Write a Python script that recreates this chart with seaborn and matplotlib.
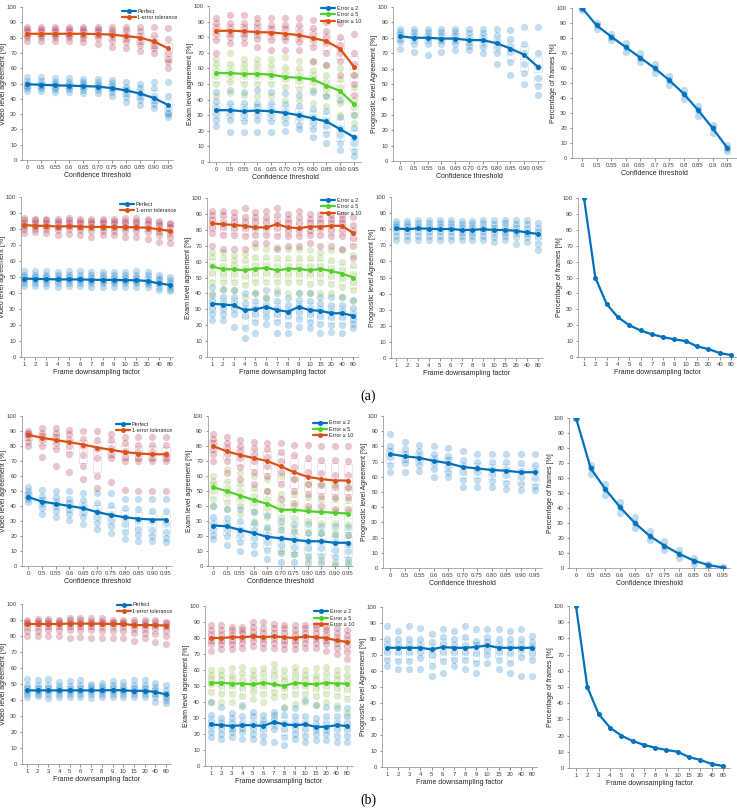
import matplotlib
matplotlib.use("Agg")
import matplotlib.pyplot as plt
from matplotlib.lines import Line2D
import numpy as np
import pandas as pd
import seaborn as sns

sns.set_theme(style="white")
plt.rcParams['font.family'] = ['Liberation Sans', 'DejaVu Sans']

# ---------------- categories ----------------
conf_labels = ['0', '0.5', '0.55', '0.6', '0.65', '0.70', '0.75', '0.80', '0.85', '0.90', '0.95']
conf_labels_frames = ['0', '0.5', '0.55', '0.6', '0.65', '0.7', '0.75', '0.8', '0.85', '0.9', '0.95']
ds_labels = ['1', '2', '3', '4', '5', '6', '7', '8', '9', '10', '15', '20', '40', '80']

# ================= (a) confidence threshold =================
a_conf_video_perfect_mean = [49.5, 49.2, 48.8, 48.6, 48.3, 48.0, 47.0, 45.5, 43.5, 40.5, 36.0]
a_conf_video_perfect_pts = [
    [45, 47, 48.5, 50, 51.5, 54], [45, 47, 48.5, 50, 51.5, 54], [44.5, 46.5, 48, 49.5, 51, 53.5],
    [44.5, 46.5, 48, 49.5, 51, 53.5], [44, 46, 48, 49.5, 51, 53], [44, 46, 47.5, 49, 51, 53],
    [42, 44.5, 46.5, 48.5, 50.5, 52], [38, 41, 44, 46, 48, 51], [36, 39, 42, 44, 47, 50],
    [34, 36.5, 39, 42, 47, 51], [28, 30, 31, 34, 42, 51]]
a_conf_video_tol_mean = [82.5, 82.5, 82.5, 82.5, 82.5, 82.3, 82.0, 81.0, 80.0, 77.5, 73.0]
a_conf_video_tol_pts = [
    [78, 80.5, 82, 84, 85.5, 87], [78, 80.5, 82, 84, 85.5, 87], [78, 80.5, 82, 84, 85.5, 87],
    [78, 80.5, 82, 84, 85.5, 87], [77, 80, 82, 84, 85.5, 87], [76, 79.5, 82, 84, 85.5, 87],
    [74, 78, 81, 83, 85, 87], [73, 77, 80, 82, 85, 87], [71, 75, 78, 81, 84, 87],
    [70, 73, 75, 78, 82, 87], [60, 64, 66, 70, 79, 86]]

a_conf_exam_e2_mean = [33.2, 33.2, 32.5, 33.0, 32.5, 31.5, 30.0, 28.0, 26.0, 21.0, 16.0]
a_conf_exam_e2_pts = [
    [23, 27, 31, 35, 39, 45], [19, 27, 31, 34, 38, 46], [19, 26, 30, 34, 38, 45],
    [19, 27, 31, 35, 38, 46], [19, 26, 30, 34, 38, 45], [20, 25, 29, 33, 37, 44],
    [21, 24, 28, 31, 36, 43], [16, 21, 25, 29, 34, 45], [12, 18, 23, 27, 33, 42],
    [8, 12, 17, 22, 29, 40], [4, 7, 12, 16, 22, 30]]
a_conf_exam_e5_mean = [57.0, 57.0, 56.5, 56.5, 56.0, 54.5, 54.0, 53.0, 49.0, 45.5, 37.0]
a_conf_exam_e5_pts = [
    [42, 50, 55, 59, 63, 66], [44, 51, 55, 59, 63, 70], [43, 50, 55, 59, 63, 66],
    [42, 50, 55, 59, 63, 66], [42, 50, 55, 58, 62, 66], [40, 48, 53, 57, 61, 67],
    [40, 47, 52, 56, 60, 65], [38, 46, 51, 55, 59, 64], [36, 42, 47, 51, 56, 62],
    [30, 38, 43, 48, 53, 60], [25, 30, 35, 40, 48, 56]]
a_conf_exam_e10_mean = [84.0, 84.2, 83.8, 83.3, 83.0, 82.3, 81.3, 79.5, 77.5, 72.5, 61.0]
a_conf_exam_e10_pts = [
    [70, 78, 82, 86, 89, 92], [76, 80, 83, 86, 89, 94], [76, 80, 83, 86, 89, 94],
    [74, 79, 82, 86, 89, 92], [72, 78, 82, 85, 88, 92], [72, 78, 81, 85, 88, 92],
    [72, 77, 80, 84, 88, 92], [65, 74, 78, 82, 86, 91], [62, 70, 76, 80, 84, 90],
    [56, 65, 70, 75, 80, 89], [43, 50, 56, 63, 70, 82]]

a_conf_prog_mean = [81.0, 80.0, 80.0, 79.5, 79.5, 78.5, 78.5, 76.5, 73.0, 69.0, 61.0]
a_conf_prog_pts = [
    [73, 77, 79.5, 82, 84, 86], [71, 76, 79, 81, 83.5, 86], [69, 76, 79, 81, 83.5, 86],
    [71, 76, 78.5, 81, 83.5, 86], [72, 76, 78.5, 81, 83.5, 86], [72, 75, 77.5, 80, 83, 86],
    [70, 74, 77.5, 80, 83, 86], [63, 70, 74, 78, 82, 86], [56, 64, 71, 75, 79, 85],
    [50, 57, 63, 70, 76, 87], [43, 49, 54, 61, 70, 87]]

a_conf_frames_mean = [100, 88.5, 81, 74, 67, 60, 52, 43, 32, 20, 7]
a_conf_frames_pts = [
    [99, 100, 100], [86, 88.5, 90], [78.5, 81, 83], [71, 74, 76.5], [64, 67, 70], [57, 60, 63],
    [48.5, 52, 55], [39.5, 43, 45.5], [28, 32, 34.5], [17, 20, 22], [5, 7, 8.5]]

# ================= (a) frame downsampling =================
a_ds_video_perfect_mean = [49, 48.8, 48.7, 48.5, 48.5, 48.5, 48.3, 48.2, 48.2, 48.0, 48.0, 47.5, 46.0, 45.0]
a_ds_video_perfect_pts = [
    [44.5, 46.5, 48, 50, 51.5, 54], [44.5, 46.5, 48, 50, 51.5, 53.5], [44.5, 46.5, 48, 50, 51.5, 54],
    [44, 46, 48, 49.5, 51, 53], [44.5, 46.5, 48, 50, 51.5, 53.5], [44.5, 46.5, 48, 49.5, 51, 53.5],
    [43.5, 46, 47.5, 49.5, 51, 53], [44, 46, 47.5, 49.5, 51, 53], [44, 46, 47.5, 49.5, 51, 53],
    [44, 46, 47.5, 49.5, 51, 53], [44, 46, 47.5, 49.5, 51, 53.5], [43.5, 45.5, 47, 49, 51, 53],
    [42, 44, 46, 48, 49.5, 51], [41, 42.5, 44.5, 46.5, 48, 50]]
a_ds_video_tol_mean = [82.5, 82.0, 82.0, 81.5, 81.8, 81.5, 81.3, 81.3, 81.2, 81.2, 81.0, 80.8, 79.8, 78.8]
a_ds_video_tol_pts = [
    [77.5, 80, 82, 84, 85.5, 87], [78, 80, 82, 84, 85.5, 86.5], [77.5, 80, 82, 84, 85.5, 86.5],
    [76.5, 79.5, 81.5, 83.5, 85, 86], [77, 80, 82, 84, 85.5, 87], [76.5, 79.5, 81.5, 83.5, 85, 86.5],
    [75, 79, 81, 83.5, 85, 86], [76, 79, 81, 83.5, 85, 86.5], [76, 79, 81, 83.5, 85, 86.5],
    [75, 79, 81, 83.5, 85, 87], [75, 79, 81, 83.5, 85, 87], [74, 78, 80.5, 83, 85, 86],
    [72, 76, 79, 82, 84, 85], [71, 75, 78, 81, 83, 84]]

a_ds_exam_e2_mean = [33.5, 33.0, 32.5, 29.5, 30.0, 31.5, 29.5, 28.5, 31.5, 29.5, 29.0, 27.5, 27.5, 26.0]
a_ds_exam_e2_pts = [
    [23, 27, 31, 35, 39, 44], [23, 27, 31, 34, 38, 43], [19, 27, 31, 34, 38, 42],
    [12, 18, 26, 30, 34, 40], [15, 22, 27, 31, 35, 40], [21, 25, 29, 33, 37, 42],
    [15, 22, 27, 31, 35, 40], [15, 20, 26, 29, 33, 37], [19, 24, 28, 32, 36, 40],
    [18, 22, 27, 31, 35, 40], [15, 21, 26, 30, 34, 38], [16, 20, 25, 29, 33, 38],
    [15, 20, 25, 29, 33, 38], [18, 21, 24, 27, 31, 36]]
a_ds_exam_e5_mean = [57.0, 55.2, 55.2, 54.5, 55.5, 56.0, 54.5, 55.5, 55.5, 54.5, 55.5, 54.0, 52.5, 50.0]
a_ds_exam_e5_pts = [
    [40, 47, 53, 58, 63, 66], [42, 47, 52, 57, 62, 66], [42, 47, 52, 57, 61, 64],
    [38, 45, 51, 56, 61, 65], [40, 47, 53, 58, 63, 69], [38, 47, 53, 58, 63, 68],
    [42, 47, 52, 57, 62, 69], [40, 47, 52, 57, 62, 68], [40, 47, 52, 57, 62, 68],
    [40, 46, 52, 57, 62, 67], [40, 47, 52, 57, 62, 66], [40, 46, 51, 56, 61, 67],
    [38, 44, 50, 55, 60, 67], [35, 42, 47, 52, 58, 64]]
a_ds_exam_e10_mean = [84.0, 83.5, 83.0, 82.5, 81.5, 81.5, 83.5, 81.5, 81.0, 82.0, 82.0, 82.5, 82.5, 78.0]
a_ds_exam_e10_pts = [
    [70, 78, 82, 86, 89, 92], [68, 77, 82, 85, 89, 92], [68, 77, 81, 85, 88, 91],
    [68, 76, 81, 85, 88, 94], [72, 77, 81, 85, 88, 91], [72, 77, 81, 85, 88, 92],
    [68, 76, 81, 85, 89, 94], [70, 76, 80, 84, 87, 90], [70, 76, 80, 84, 88, 92],
    [72, 77, 80, 84, 87, 90], [70, 77, 81, 84, 87, 90], [70, 76, 80, 84, 87, 89],
    [68, 76, 80, 84, 87, 89], [62, 70, 75, 79, 83, 88]]

a_ds_prog_mean = [80.5, 80.0, 80.5, 80.3, 80.0, 80.2, 79.5, 79.6, 80.0, 79.5, 79.5, 79.0, 78.0, 77.0]
a_ds_prog_pts = [
    [73, 76, 79, 81.5, 83.5, 85], [73, 76, 79, 81.5, 83.5, 85], [73, 76, 79, 81.5, 84, 86],
    [73, 76, 79, 81.5, 84, 86], [73, 76, 79, 81.5, 84, 86], [73, 76, 79, 81.5, 84, 86],
    [73, 76, 78.5, 81, 83, 85], [73, 76, 78.5, 81, 83.5, 85], [73, 76, 79, 81, 84, 86],
    [72, 75, 78, 81, 83.5, 86], [73, 76, 78.5, 81, 84, 86], [71, 75, 78, 81, 83.5, 86],
    [72, 75, 77.5, 80, 83, 86], [67, 71, 75, 78, 81, 84]]

a_ds_frames_mean = [100, 50, 33.3, 25, 20, 16.7, 14.3, 12.5, 11.1, 10, 6.7, 5, 2.5, 1.25]

# ================= (b) confidence threshold =================
b_conf_video_perfect_mean = [46, 43, 41.5, 40, 38.5, 36, 34, 32.5, 31.5, 31, 31]
b_conf_video_perfect_pts = [
    [43, 45, 46, 48, 50, 53], [35, 39, 42, 44, 47, 51], [33, 37, 40, 43, 46, 50],
    [31, 35, 38, 42, 45, 50], [28, 33, 36, 40, 44, 49], [25, 29, 33, 37, 42, 49],
    [22, 27, 31, 35, 41, 49], [18, 23, 28, 33, 39, 45], [17, 21, 25, 31, 38, 45],
    [17, 20, 24, 30, 37, 45], [16, 19, 23, 29, 37, 45]]
b_conf_video_tol_mean = [87.5, 85.5, 84, 82.5, 81, 79, 77.5, 76, 75, 74.5, 74.5]
b_conf_video_tol_pts = [
    [80, 83, 86, 88, 89, 90], [73, 80, 84, 87, 89, 92], [67, 78, 82, 86, 89, 92],
    [63, 75, 80, 84, 88, 91], [58, 67, 74, 80, 85, 90], [52, 60, 72, 78, 84, 90],
    [56, 72, 75, 79, 84, 88], [51, 70, 73, 77, 82, 86], [50, 70, 72, 76, 81, 86],
    [50, 70, 72, 76, 81, 86], [50, 70, 72, 75, 81, 86]]

b_conf_exam_e2_mean = [27, 26.5, 24, 22, 19.5, 18.5, 17.5, 16.5, 16.5, 15.5, 15.5]
b_conf_exam_e2_pts = [
    [18, 21, 25, 29, 33, 40], [14, 20, 24, 28, 32, 38], [10, 16, 21, 25, 30, 38],
    [9, 14, 19, 24, 29, 36], [5, 11, 16, 21, 26, 34], [3, 9, 14, 19, 24, 30],
    [3, 8, 13, 18, 23, 28], [2, 7, 12, 17, 22, 28], [2, 7, 12, 17, 22, 27],
    [1, 6, 11, 16, 21, 27], [1, 5, 10, 15, 21, 26]]
b_conf_exam_e5_mean = [52.5, 50, 47, 44, 41.5, 37.5, 37.5, 36.5, 36, 35.5, 35]
b_conf_exam_e5_pts = [
    [40, 45, 50, 54, 57, 60], [38, 43, 48, 52, 57, 65], [35, 40, 45, 50, 55, 62],
    [30, 37, 42, 47, 52, 60], [25, 33, 39, 45, 50, 58], [10, 26, 33, 41, 48, 60],
    [8, 25, 32, 40, 48, 58], [5, 23, 30, 38, 46, 55], [4, 22, 29, 37, 45, 55],
    [3, 22, 29, 37, 45, 55], [3, 21, 28, 36, 44, 52]]
b_conf_exam_e10_mean = [80, 76.5, 74, 72, 70, 66.5, 62.5, 59.5, 58, 57, 57]
b_conf_exam_e10_pts = [
    [70, 75, 78, 82, 85, 88], [62, 70, 75, 79, 82, 86], [58, 66, 72, 77, 80, 84],
    [55, 63, 70, 75, 79, 83], [50, 60, 67, 73, 78, 82], [45, 55, 63, 70, 76, 82],
    [42, 50, 58, 66, 74, 81], [40, 48, 55, 63, 72, 81], [40, 47, 54, 62, 71, 80],
    [38, 46, 53, 61, 71, 80], [38, 46, 53, 61, 70, 80]]

b_conf_prog_mean = [75, 73.5, 72.5, 70.5, 69, 66.5, 65.5, 64.5, 64, 63, 63]
b_conf_prog_pts = [
    [63, 68, 73, 77, 80, 88], [63, 69, 72, 75, 78, 83], [64, 68, 71, 74, 77, 81],
    [60, 65, 69, 72, 75, 80], [60, 63, 67, 71, 74, 79], [53, 58, 63, 67, 71, 77],
    [53, 58, 63, 66, 70, 75], [53, 57, 62, 65, 70, 75], [52, 56, 61, 65, 70, 75],
    [51, 55, 60, 64, 69, 75], [51, 54, 59, 64, 68, 75]]

b_conf_frames_mean = [100, 66.5, 52.5, 40.5, 30, 21.5, 15, 9.5, 5, 2, 0.3]
b_conf_frames_pts = [
    [100, 100, 100], [63, 66.5, 69], [49, 52.5, 56], [37, 40.5, 44], [27, 30, 34], [18.5, 21.5, 25],
    [12, 15, 18], [7, 9.5, 12], [3, 5, 7], [1, 2, 3], [0, 0.3, 0.5]]

# ================= (b) frame downsampling =================
b_ds_video_perfect_mean = [46, 46, 46, 46, 46, 46, 46, 46, 46.2, 46, 45.7, 45.8, 45, 43.5]
b_ds_video_perfect_pts = [
    [42, 44, 45.5, 47.5, 49.5, 53], [42.5, 44, 45.5, 47.5, 49.5, 52.5], [41.5, 44, 45.5, 47.5, 49.5, 53],
    [42, 44, 45.5, 47, 49, 51.5], [42, 44, 45.5, 47, 49, 52], [42, 44, 45.5, 47.5, 49.5, 52.5],
    [41.5, 43.5, 45.5, 47, 48.5, 50], [42, 44, 45.5, 47, 48.5, 50.5], [42, 44, 45.5, 47.5, 49.5, 52],
    [42, 44, 45.5, 47, 49, 51.5], [42, 44, 45.5, 47.5, 49.5, 52.5], [42, 44, 45.5, 47.5, 49.5, 52.5],
    [39, 42, 44, 46, 48, 50.5], [38, 40, 42, 44, 46.5, 49.5]]
b_ds_video_tol_mean = [87.5, 87.5, 87.5, 87.5, 87.8, 87.8, 87.7, 87.7, 87.5, 87.5, 86.8, 86.8, 86.8, 86.5]
b_ds_video_tol_pts = [
    [80, 83, 86, 88, 89, 90], [80, 83, 86, 88, 89.5, 90.5], [80, 83.5, 86, 88, 89.5, 90.5],
    [80, 83.5, 86, 88, 89.5, 90], [79, 84, 86, 88, 90, 91], [79.5, 84, 86, 88, 90, 91],
    [79, 83.5, 86, 88, 89.5, 91], [79, 83, 86, 88, 89.5, 91], [79, 83, 86, 88, 89, 90],
    [79, 83, 86, 88, 89, 90], [77, 82, 85, 87, 88.5, 90], [79, 82, 85, 87, 88.5, 90],
    [76, 81, 85, 87, 88.5, 90], [75, 80, 84, 86, 88, 89]]

b_ds_exam_e2_mean = [26, 25.5, 25, 25.5, 25.5, 25, 27.5, 26, 25.5, 26, 24.5, 24.5, 25.5, 25]
b_ds_exam_e2_pts = [
    [18, 21, 25, 28, 32, 40], [17, 20, 24, 27, 30, 37], [18, 21, 24, 27, 30, 33],
    [17, 21, 24, 27, 31, 38], [17, 20, 24, 27, 31, 34], [15, 19, 23, 26, 29, 32],
    [15, 23, 26, 29, 32, 34], [13, 18, 23, 27, 32, 36], [17, 20, 24, 27, 31, 36],
    [15, 19, 23, 27, 31, 41], [16, 20, 23, 26, 30, 38], [16, 20, 23, 27, 31, 37],
    [15, 19, 23, 27, 31, 36], [15, 19, 23, 27, 31, 36]]
b_ds_exam_e5_mean = [52, 52, 51.5, 51.5, 51, 52, 51, 50, 52, 51.5, 51, 52, 51.5, 51.5]
b_ds_exam_e5_pts = [
    [40, 46, 51, 54, 57, 60], [40, 45, 50, 54, 57, 60], [40, 45, 50, 54, 57, 61],
    [37, 44, 49, 54, 58, 62], [42, 46, 50, 54, 57, 60], [40, 45, 50, 54, 58, 61],
    [43, 46, 51, 56, 60, 64], [37, 44, 49, 53, 56, 60], [39, 45, 50, 55, 59, 62],
    [40, 45, 50, 54, 57, 60], [38, 44, 49, 54, 57, 61], [40, 45, 50, 54, 58, 62],
    [38, 44, 49, 54, 57, 60], [33, 42, 48, 53, 57, 61]]
b_ds_exam_e10_mean = [80, 80, 80.5, 80.5, 81, 80.5, 81, 80.5, 80, 81, 80.5, 80, 78.5, 77.5]
b_ds_exam_e10_pts = [
    [72, 76, 79, 82, 85, 88], [73, 76, 79, 82, 85, 88], [73, 76, 79, 82, 85, 87],
    [74, 77, 80, 83, 85, 87], [75, 78, 81, 84, 87, 90], [74, 77, 80, 83, 86, 90],
    [74, 77, 80, 83, 86, 89], [73, 76, 79, 83, 86, 88], [73, 76, 79, 82, 85, 88],
    [74, 77, 80, 83, 86, 88], [74, 77, 80, 83, 86, 88], [72, 76, 79, 82, 85, 87],
    [70, 74, 77, 80, 83, 86], [67, 71, 75, 79, 82, 85]]

b_ds_prog_mean = [74.5, 74.5, 74.5, 74.5, 73.5, 75, 74.5, 74.5, 75, 76, 74.5, 74.5, 74.5, 74.5]
b_ds_prog_pts = [
    [63, 67, 72, 76, 80, 88], [61, 66, 72, 76, 80, 85], [61, 66, 72, 76, 80, 88],
    [61, 68, 72, 76, 80, 87], [57, 63, 70, 74, 78, 83], [59, 66, 72, 77, 81, 86],
    [63, 67, 72, 76, 80, 85], [61, 67, 72, 76, 81, 88], [59, 65, 71, 76, 79, 86],
    [65, 70, 74, 78, 81, 86], [61, 67, 72, 76, 80, 86], [59, 65, 71, 76, 80, 85],
    [57, 69, 73, 76, 80, 86], [57, 67, 71, 75, 78, 82]]

b_ds_frames_mean = [100, 50, 33.3, 25, 20, 16.7, 14.3, 12.5, 11.1, 10, 6.7, 5, 2.5, 1.25]

# ---------------- styling ----------------
W, H = 737, 810
fig = plt.figure(figsize=(W / 100, H / 100), dpi=100)
fig.patch.set_facecolor('white')

LINE_BLUE = '#0072BD'
LINE_ORANGE = '#D95319'
LINE_GREEN = '#52D12A'
PT_BLUE = '#0072BD'
PT_RED = '#A2142F'
PT_GREEN = '#77AC30'
BOX_COL = {PT_BLUE: '#D6E7F4', PT_RED: '#F3D6DC', PT_GREEN: '#E2EED3'}

TXT = '#262626'
TCK = '#404040'


def make_ax(spine, first, last, y100, y0, n):
    sp = (last - first) / (n - 1)
    gap = (first - spine) / sp
    right = last + (first - spine)
    ax = fig.add_axes([spine / W, 1 - y0 / H, (right - spine) / W, (y0 - y100) / H])
    ax.set_facecolor('white')
    ax._n = n
    ax._gap = gap
    ax._wpx = right - spine
    return ax


def draw_series(ax, mean, pts, line_color, pt_color, label, box=True, pt_alpha=0.24):
    n = len(mean)
    if pts is not None:
        xs = [i for i, col in enumerate(pts) for _ in col]
        ys = [v for col in pts for v in col]
        df = pd.DataFrame({'x': xs, 'y': ys})
        if box:
            sns.boxplot(data=df, x='x', y='y', ax=ax, fill=False, color=BOX_COL[pt_color],
                        linewidth=0.5, showfliers=False, showcaps=False, whis=0,
                        whiskerprops={'linewidth': 0}, width=0.55, zorder=1)
        sns.scatterplot(data=df, x='x', y='y', ax=ax, color=pt_color, alpha=pt_alpha, s=27,
                        linewidth=0, legend=False, zorder=2)
    dm = pd.DataFrame({'x': list(range(n)), 'y': mean})
    sns.lineplot(data=dm, x='x', y='y', ax=ax, color=line_color, linewidth=1.6, marker='o',
                 markersize=3.6, markeredgewidth=0, legend=False, zorder=5)
    return Line2D([], [], color=line_color, lw=1.6, marker='o', markersize=3.6,
                  markeredgewidth=0, label=label)


def finish(ax, labels, xlabel, ylabel, handles=None, anchor=None):
    n = ax._n
    ax.set_xlim(-ax._gap, n - 1 + ax._gap)
    ax.set_ylim(0, 100)
    ax.set_xticks(range(n))
    ax.set_xticklabels(labels)
    ax.set_yticks(range(0, 101, 10))
    ax.set_xlabel(xlabel, fontsize=5.0, color=TXT, labelpad=1.5)
    ax.set_ylabel(ylabel, fontsize=5.0, color=TXT)
    ax.yaxis.set_label_coords(-15.0 / ax._wpx, 0.5)
    ax.tick_params(axis='both', labelsize=4.3, colors=TCK, length=1.8, width=0.4, pad=1.8,
                   direction='out', bottom=True, left=True)
    for s in ['top', 'right']:
        ax.spines[s].set_visible(False)
    for s in ['left', 'bottom']:
        ax.spines[s].set_color('#8c8c8c')
        ax.spines[s].set_linewidth(0.5)
    ax.grid(False)
    if handles:
        leg = ax.legend(handles=handles, loc='upper right', bbox_to_anchor=anchor, frameon=False,
                        fontsize=3.9, handlelength=2.6, handletextpad=0.3, labelspacing=0.25,
                        borderaxespad=0.0, borderpad=0.0)
        for t in leg.get_texts():
            t.set_color(TXT)


XL_CONF = 'Confidence threshold'
XL_DS = 'Frame downsampling factor'
YL = ['Video level agreement [%]', 'Exam level agreement [%]',
      'Prognostic level Agreement [%]', 'Percentage of frames [%]']

rows = [
    dict(kind='conf', labels=conf_labels, xl=XL_CONF,
         geo=[(22, 27, 168, 7, 160), (209, 216, 354, 6, 162), (393, 400, 538, 7, 161), (572, 582, 727, 8, 158)],
         anchors=[(1.03, 0.99), (1.0, 1.0)],
         video=[(a_conf_video_perfect_mean, a_conf_video_perfect_pts), (a_conf_video_tol_mean, a_conf_video_tol_pts)],
         exam=[(a_conf_exam_e2_mean, a_conf_exam_e2_pts), (a_conf_exam_e5_mean, a_conf_exam_e5_pts),
               (a_conf_exam_e10_mean, a_conf_exam_e10_pts)],
         prog=(a_conf_prog_mean, a_conf_prog_pts), frames=(a_conf_frames_mean, a_conf_frames_pts)),
    dict(kind='ds', labels=ds_labels, xl=XL_DS,
         geo=[(21, 24, 170, 197, 357), (207, 212, 353, 198, 357), (391, 396, 538, 197, 358), (578, 584, 731, 198, 357)],
         anchors=[(1.02, 0.97), (1.02, 1.0)],
         video=[(a_ds_video_perfect_mean, a_ds_video_perfect_pts), (a_ds_video_tol_mean, a_ds_video_tol_pts)],
         exam=[(a_ds_exam_e2_mean, a_ds_exam_e2_pts), (a_ds_exam_e5_mean, a_ds_exam_e5_pts),
               (a_ds_exam_e10_mean, a_ds_exam_e10_pts)],
         prog=(a_ds_prog_mean, a_ds_prog_pts), frames=(a_ds_frames_mean, None)),
    dict(kind='conf', labels=conf_labels, xl=XL_CONF,
         geo=[(22, 28, 166, 416, 566), (208, 213, 348, 416, 566), (383, 390, 535, 416, 568), (569, 576, 723, 418, 568)],
         anchors=[(1.0, 0.96), (1.0, 0.97)],
         video=[(b_conf_video_perfect_mean, b_conf_video_perfect_pts), (b_conf_video_tol_mean, b_conf_video_tol_pts)],
         exam=[(b_conf_exam_e2_mean, b_conf_exam_e2_pts), (b_conf_exam_e5_mean, b_conf_exam_e5_pts),
               (b_conf_exam_e10_mean, b_conf_exam_e10_pts)],
         prog=(b_conf_prog_mean, b_conf_prog_pts), frames=(b_conf_frames_mean, b_conf_frames_pts)),
    dict(kind='ds', labels=ds_labels, xl=XL_DS,
         geo=[(22, 27, 166, 604, 764), (205, 211, 347, 606, 766), (382, 387, 532, 607, 767), (569, 576, 723, 606, 768)],
         anchors=[(1.01, 1.01), (1.01, 0.98)],
         video=[(b_ds_video_perfect_mean, b_ds_video_perfect_pts), (b_ds_video_tol_mean, b_ds_video_tol_pts)],
         exam=[(b_ds_exam_e2_mean, b_ds_exam_e2_pts), (b_ds_exam_e5_mean, b_ds_exam_e5_pts),
               (b_ds_exam_e10_mean, b_ds_exam_e10_pts)],
         prog=(b_ds_prog_mean, b_ds_prog_pts), frames=(b_ds_frames_mean, None)),
]

video_names = ['Perfect', '1-error tolerance']
video_cols = [(LINE_BLUE, PT_BLUE), (LINE_ORANGE, PT_RED)]
exam_names = ['Error \u2264 2', 'Error \u2264 5', 'Error \u2264 10']
exam_cols = [(LINE_BLUE, PT_BLUE), (LINE_GREEN, PT_GREEN), (LINE_ORANGE, PT_RED)]

for r in rows:
    n = len(r['labels'])
    g = r['geo']
    # video
    ax = make_ax(*g[0], n)
    hs = []
    for (m, p), name, (lc, pc) in zip(r['video'], video_names, video_cols):
        hs.append(draw_series(ax, m, p, lc, pc, name))
    finish(ax, r['labels'], r['xl'], YL[0], hs, r['anchors'][0])
    # exam
    ax = make_ax(*g[1], n)
    hs = []
    for (m, p), name, (lc, pc) in zip(r['exam'], exam_names, exam_cols):
        hs.append(draw_series(ax, m, p, lc, pc, name))
    finish(ax, r['labels'], r['xl'], YL[1], hs, r['anchors'][1])
    # prognostic
    ax = make_ax(*g[2], n)
    m, p = r['prog']
    draw_series(ax, m, p, LINE_BLUE, PT_BLUE, None)
    finish(ax, r['labels'], r['xl'], YL[2])
    # frames
    ax = make_ax(*g[3], n)
    m, p = r['frames']
    draw_series(ax, m, p, LINE_BLUE, PT_BLUE, None, box=False, pt_alpha=0.25)
    finish(ax, conf_labels_frames if r['kind'] == 'conf' else r['labels'], r['xl'], YL[3])

fig.text(368 / W, 1 - 396 / H, '(a)', ha='center', va='center', fontsize=10,
         family=['Liberation Serif', 'DejaVu Serif'], color='black')
fig.text(368 / W, 1 - 800 / H, '(b)', ha='center', va='center', fontsize=10,
         family=['Liberation Serif', 'DejaVu Serif'], color='black')

fig.savefig('out.png', dpi=100, facecolor='white')
